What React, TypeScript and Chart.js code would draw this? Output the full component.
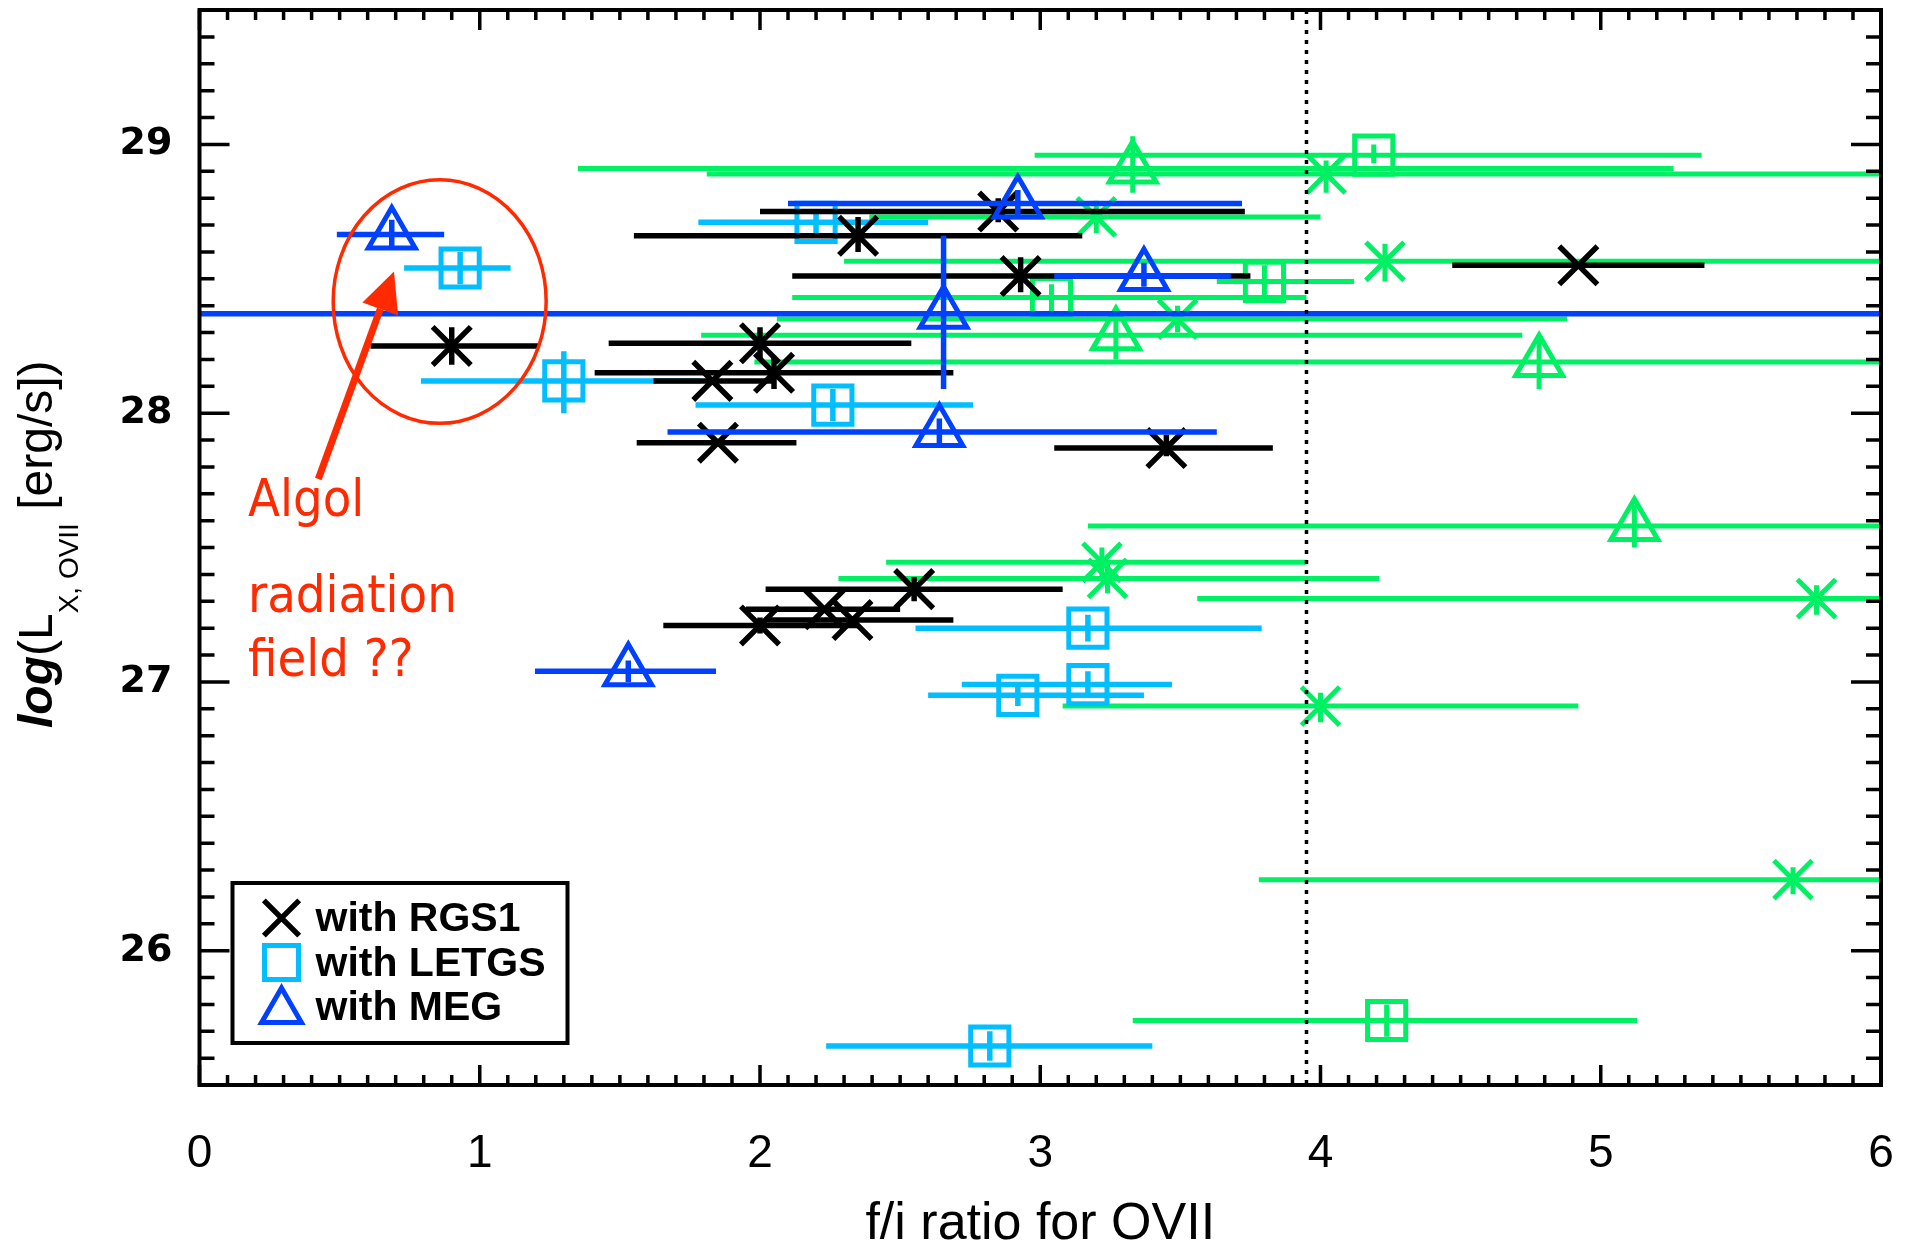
import React, { useEffect, useRef } from 'react';
import { Chart, registerables } from 'chart.js';

Chart.register(...registerables);

const W = 1919;
const H = 1253;

// ---------- data ----------
// with RGS1 (black X)
const rgsX = [0.90, 2.35, 2.85, 2.93, 4.92, 2.00, 2.05, 1.83, 1.85, 3.45, 2.55, 2.23, 2.33, 2.00];
const rgsY = [28.25, 28.66, 28.75, 28.51, 28.55, 28.26, 28.15, 28.12, 27.89, 27.87, 27.345, 27.27, 27.23, 27.21];
const rgsXLo = [0.61, 1.55, 2.00, 2.115, 4.47, 1.46, 1.41, 1.62, 1.56, 3.05, 2.02, 1.95, 2.02, 1.655];
const rgsXHi = [1.21, 3.15, 3.73, 3.75, 5.37, 2.54, 2.69, 2.05, 2.13, 3.83, 3.08, 2.50, 2.69, 2.35];
const rgsYLo = [28.18, 28.60, 28.71, 28.45, 28.55, 28.20, 28.09, 28.12, 27.89, 27.84, 27.30, 27.27, 27.23, 27.18];
const rgsYHi = [28.32, 28.73, 28.80, 28.58, 28.55, 28.32, 28.21, 28.12, 27.89, 27.92, 27.39, 27.27, 27.23, 27.24];

// with LETGS (cyan squares)
const letX = [0.93, 1.30, 2.20, 2.26, 3.17, 3.17, 2.92, 2.82];
const letY = [28.54, 28.12, 28.71, 28.03, 27.20, 26.99, 26.95, 25.645];
const letXLo = [0.73, 0.79, 1.78, 1.77, 2.555, 2.72, 2.60, 2.236];
const letXHi = [1.11, 1.79, 2.60, 2.76, 3.79, 3.47, 3.37, 3.40];
const letYLo = [28.48, 28.00, 28.66, 27.97, 27.15, 26.94, 26.91, 25.59];
const letYHi = [28.60, 28.23, 28.76, 28.09, 27.25, 27.04, 26.99, 25.70];

// with MEG (blue triangles)
const megX = [0.686, 2.92, 3.37, 2.655, 2.64, 1.53];
const megY = [28.665, 28.78, 28.51, 28.37, 27.93, 27.04];
const megXLo = [0.49, 2.10, 3.05, -1.0, 1.67, 1.197];
const megXHi = [0.873, 3.72, 3.68, 7.0, 3.63, 1.843];
const megYLo = [28.62, 28.73, 28.47, 28.09, 27.88, 27.00];
const megYHi = [28.72, 28.83, 28.56, 28.66, 27.98, 27.08];

// green group: X
const gStarX = [4.02, 3.20, 4.23, 3.49, 3.22, 3.24, 5.77, 4.00, 5.686];
const gStarY = [28.89, 28.73, 28.565, 28.35, 27.445, 27.385, 27.31, 26.91, 26.264];
const gStarXLo = [1.81, 2.39, 2.30, 2.06, 2.45, 2.28, 3.56, 3.08, 3.78];
const gStarXHi = [6.5, 4.00, 6.5, 4.88, 3.95, 4.21, 6.5, 4.92, 6.5];
const gStarYLo = [28.82, 28.67, 28.49, 28.30, 27.39, 27.33, 27.25, 26.85, 26.21];
const gStarYHi = [28.94, 28.79, 28.63, 28.40, 27.50, 27.44, 27.36, 26.96, 26.31];

// green group: squares
const gSqX = [4.19, 3.04, 3.80, 4.236];
const gSqY = [28.96, 28.43, 28.49, 25.74];
const gSqXLo = [2.98, 2.115, 3.63, 3.33];
const gSqXHi = [5.36, 3.95, 4.12, 5.13];
const gSqYLo = [28.93, 28.38, 28.43, 25.68];
const gSqYHi = [29.00, 28.48, 28.55, 25.80];

// green group: triangles
const gTriX = [3.33, 3.27, 4.78, 5.12];
const gTriY = [28.91, 28.29, 28.19, 27.58];
const gTriXLo = [1.35, 1.79, 1.98, 3.17];
const gTriXHi = [5.26, 4.72, 6.5, 6.5];
const gTriYLo = [28.82, 28.20, 28.09, 27.50];
const gTriYHi = [29.03, 28.37, 28.29, 27.66];

// axes
const xTickValues = [0, 1, 2, 3, 4, 5, 6];
const yTickValues = [26, 27, 28, 29];
const xMin = 0, xMax = 6;
const yMin = 25.5, yMax = 29.5;
const minorStep = 0.1;
const dividerX = 3.95;

const legendLabels = ['with RGS1', 'with LETGS', 'with MEG'];
const annotationLines = ['Algol', 'radiation', 'field ??'];

// ---------- styles ----------
const BLACK = '#000000';
const CYAN = '#00BEFF';
const BLUE = '#0040FF';
const GREEN = '#00F064';
const RED = '#FF2A00';

function makeSet(label: string, color: string, style: string, xs: number[], ys: number[],
  xlo: number[], xhi: number[], ylo: number[], yhi: number[], order: number,
  radius: number, bw: number, errWidth: number) {
  return {
    label,
    data: xs.map((x, i) => ({ x, y: ys[i] })),
    err: xs.map((_, i) => ({ xlo: xlo[i], xhi: xhi[i], ylo: ylo[i], yhi: yhi[i] })),
    errColor: color,
    errWidth,
    pointStyle: style,
    pointRadius: radius,
    pointHoverRadius: radius,
    pointBorderWidth: bw,
    pointBorderColor: color,
    pointBackgroundColor: 'rgba(0,0,0,0)',
    borderColor: color,
    showLine: false,
    order,
  };
}

const errorBarPlugin = {
  id: 'errorBars',
  beforeDatasetDraw(chart: any, args: any) {
    const ds = chart.data.datasets[args.index];
    if (!ds.err) return;
    const { ctx, chartArea: a, scales: { x, y } } = chart;
    ctx.save();
    ctx.beginPath();
    ctx.rect(a.left, a.top, a.right - a.left, a.bottom - a.top);
    ctx.clip();
    ctx.strokeStyle = ds.errColor;
    ctx.lineWidth = ds.errWidth;
    ctx.lineCap = 'butt';
    ds.data.forEach((p: any, i: number) => {
      const e = ds.err[i];
      const px = x.getPixelForValue(p.x);
      const py = y.getPixelForValue(p.y);
      ctx.beginPath();
      ctx.moveTo(x.getPixelForValue(e.xlo), py);
      ctx.lineTo(x.getPixelForValue(e.xhi), py);
      if (e.yhi > e.ylo) {
        ctx.moveTo(px, y.getPixelForValue(e.ylo));
        ctx.lineTo(px, y.getPixelForValue(e.yhi));
      }
      ctx.stroke();
    });
    ctx.restore();
  },
};

const frameTicksPlugin = {
  id: 'frameTicks',
  afterDatasetsDraw(chart: any) {
    const { ctx, chartArea: a, scales: { x, y } } = chart;
    ctx.save();
    // dotted divider
    const dx = x.getPixelForValue(dividerX);
    ctx.strokeStyle = BLACK;
    ctx.lineWidth = 3.5;
    ctx.setLineDash([4, 6]);
    ctx.beginPath();
    ctx.moveTo(dx, a.top);
    ctx.lineTo(dx, a.bottom);
    ctx.stroke();
    ctx.setLineDash([]);
    // inward ticks
    ctx.lineWidth = 3.5;
    ctx.lineCap = 'butt';
    ctx.beginPath();
    const nx = Math.round((xMax - xMin) / minorStep);
    for (let i = 0; i <= nx; i++) {
      const v = xMin + i * minorStep;
      const major = Math.abs(v - Math.round(v)) < 1e-6;
      const len = major ? 20 : 10;
      const px = x.getPixelForValue(v);
      ctx.moveTo(px, a.bottom);
      ctx.lineTo(px, a.bottom - len);
      ctx.moveTo(px, a.top);
      ctx.lineTo(px, a.top + len);
    }
    const ny = Math.round((yMax - yMin) / minorStep);
    for (let i = 0; i <= ny; i++) {
      const v = yMin + i * minorStep;
      const major = Math.abs(v - Math.round(v)) < 1e-6;
      const len = major ? 30 : 15;
      const py = y.getPixelForValue(v);
      ctx.moveTo(a.left, py);
      ctx.lineTo(a.left + len, py);
      ctx.moveTo(a.right, py);
      ctx.lineTo(a.right - len, py);
    }
    ctx.stroke();
    ctx.lineWidth = 4;
    ctx.strokeRect(a.left, a.top, a.right - a.left, a.bottom - a.top);
    ctx.restore();
  },
};

function drawMarker(ctx: CanvasRenderingContext2D, style: string, cx: number, cy: number, r: number) {
  ctx.beginPath();
  if (style === 'crossRot') {
    const d = r * Math.SQRT1_2;
    ctx.moveTo(cx - d, cy - d); ctx.lineTo(cx + d, cy + d);
    ctx.moveTo(cx + d, cy - d); ctx.lineTo(cx - d, cy + d);
  } else if (style === 'rect') {
    const s = r * Math.SQRT1_2;
    ctx.rect(cx - s, cy - s, 2 * s, 2 * s);
  } else {
    ctx.moveTo(cx, cy - r);
    ctx.lineTo(cx + r * 0.866, cy + r / 2);
    ctx.lineTo(cx - r * 0.866, cy + r / 2);
    ctx.closePath();
  }
  ctx.stroke();
}

const decorPlugin = {
  id: 'decor',
  afterDraw(chart: any) {
    const { ctx, chartArea: a, scales: { x, y } } = chart;
    ctx.save();

    // y-axis title (rotated, with subscript)
    ctx.translate(52, 728);
    ctx.rotate(-Math.PI / 2);
    ctx.fillStyle = BLACK;
    ctx.textBaseline = 'alphabetic';
    ctx.textAlign = 'left';
    let cx = 0;
    ctx.font = 'italic bold 48px "Liberation Sans", Arial, sans-serif';
    ctx.fillText('log', cx, 0);
    cx += ctx.measureText('log').width;
    ctx.font = '48px "Liberation Sans", Arial, sans-serif';
    ctx.fillText('(L', cx, 0);
    cx += ctx.measureText('(L').width;
    ctx.font = '28px "Liberation Sans", Arial, sans-serif';
    ctx.fillText('X, OVII', cx, 26);
    cx += ctx.measureText('X, OVII').width;
    ctx.font = '48px "Liberation Sans", Arial, sans-serif';
    ctx.fillText(' [erg/s])', cx, 0);
    ctx.restore();

    // legend box
    ctx.save();
    const bx = a.left + 33, bw = 335, bh = 160;
    const by = a.bottom - 42 - bh;
    ctx.strokeStyle = BLACK;
    ctx.lineWidth = 4;
    ctx.strokeRect(bx, by, bw, bh);
    const rows = [
      { color: BLACK, style: 'crossRot', r: 25, lw: 5.5 },
      { color: CYAN, style: 'rect', r: 24, lw: 5 },
      { color: BLUE, style: 'triangle', r: 23, lw: 5 },
    ];
    ctx.font = 'bold 41px "Liberation Sans", Arial, sans-serif';
    ctx.textBaseline = 'middle';
    ctx.textAlign = 'left';
    rows.forEach((row, i) => {
      const ry = by + 35 + i * 44.5;
      ctx.strokeStyle = row.color;
      ctx.lineWidth = row.lw;
      drawMarker(ctx, row.style, bx + 49, ry + (row.style === 'triangle' ? 4 : 0), row.r);
      ctx.fillStyle = BLACK;
      ctx.fillText(legendLabels[i], bx + 83, ry + 2);
    });
    ctx.restore();

    // annotation: ellipse, arrow, text
    ctx.save();
    ctx.strokeStyle = RED;
    ctx.fillStyle = RED;
    const ecx = x.getPixelForValue(0.857);
    const ecy = y.getPixelForValue(28.415);
    const erx = x.getPixelForValue(0.857 + 0.38) - ecx;
    const ery = ecy - y.getPixelForValue(28.415 + 0.453);
    ctx.lineWidth = 3.5;
    ctx.beginPath();
    ctx.ellipse(ecx, ecy, erx, ery, 0, 0, Math.PI * 2);
    ctx.stroke();

    const tx0 = x.getPixelForValue(0.424), ty0 = y.getPixelForValue(27.755);
    const tx1 = x.getPixelForValue(0.694), ty1 = y.getPixelForValue(28.527);
    const ang = Math.atan2(ty1 - ty0, tx1 - tx0);
    const headLen = 40, headHalf = 19;
    const bxh = tx1 - headLen * Math.cos(ang), byh = ty1 - headLen * Math.sin(ang);
    ctx.lineWidth = 7;
    ctx.beginPath();
    ctx.moveTo(tx0, ty0);
    ctx.lineTo(bxh, byh);
    ctx.stroke();
    ctx.beginPath();
    ctx.moveTo(tx1, ty1);
    ctx.lineTo(bxh + headHalf * Math.sin(ang), byh - headHalf * Math.cos(ang));
    ctx.lineTo(bxh - headHalf * Math.sin(ang), byh + headHalf * Math.cos(ang));
    ctx.closePath();
    ctx.fill();

    ctx.font = '52px "DejaVu Sans Condensed", "DejaVu Sans", sans-serif';
    ctx.textBaseline = 'alphabetic';
    ctx.textAlign = 'left';
    const tx = x.getPixelForValue(0.173);
    ctx.fillText(annotationLines[0], tx, y.getPixelForValue(27.616));
    ctx.fillText(annotationLines[1], tx, y.getPixelForValue(27.26));
    ctx.fillText(annotationLines[2], tx, y.getPixelForValue(27.023));
    ctx.restore();
  },
};

export default function App() {
  const canvasRef = useRef<HTMLCanvasElement | null>(null);

  useEffect(() => {
    if (!canvasRef.current) return;
    const datasets: any[] = [
      makeSet('with MEG', BLUE, 'triangle', megX, megY, megXLo, megXHi, megYLo, megYHi, 0, 27, 5, 5.5),
      makeSet('with RGS1', BLACK, 'crossRot', rgsX, rgsY, rgsXLo, rgsXHi, rgsYLo, rgsYHi, 1, 27, 5.5, 5.5),
      makeSet('with LETGS', CYAN, 'rect', letX, letY, letXLo, letXHi, letYLo, letYHi, 2, 27, 5, 5.5),
      makeSet('green X', GREEN, 'crossRot', gStarX, gStarY, gStarXLo, gStarXHi, gStarYLo, gStarYHi, 3, 27, 5, 5),
      makeSet('green squares', GREEN, 'rect', gSqX, gSqY, gSqXLo, gSqXHi, gSqYLo, gSqYHi, 4, 27, 5, 5),
      makeSet('green triangles', GREEN, 'triangle', gTriX, gTriY, gTriXLo, gTriXHi, gTriYLo, gTriYHi, 5, 27, 5, 5),
    ];
    const chart = new Chart(canvasRef.current, {
      type: 'scatter',
      data: { datasets },
      options: {
        responsive: false,
        animation: false,
        events: [],
        layout: { autoPadding: false, padding: { left: 0, top: 10, right: 38, bottom: 0 } },
        plugins: {
          legend: { display: false },
          tooltip: { enabled: false },
          title: { display: false },
        },
        scales: {
          x: {
            type: 'linear',
            min: xMin,
            max: xMax,
            grid: { display: false, drawTicks: false },
            border: { display: false },
            afterBuildTicks: (s: any) => { s.ticks = xTickValues.map((v) => ({ value: v })); },
            afterFit: (s: any) => {
              s.height = 168;
              s.paddingLeft = 0; s.paddingRight = 0; s.paddingTop = 0; s.paddingBottom = 0;
            },
            ticks: {
              color: BLACK,
              padding: 46,
              maxRotation: 0,
              autoSkip: false,
              font: { family: '"Liberation Sans", Arial, sans-serif', size: 46, lineHeight: 1 },
              callback: (v: any) => String(v),
            },
            title: {
              display: true,
              text: 'f/i ratio for OVII',
              color: BLACK,
              font: { family: '"Liberation Sans", Arial, sans-serif', size: 52, lineHeight: 1 },
              padding: { top: 0, bottom: 2 },
            },
          },
          y: {
            type: 'linear',
            min: yMin,
            max: yMax,
            grid: { display: false, drawTicks: false },
            border: { display: false },
            afterBuildTicks: (s: any) => { s.ticks = yTickValues.map((v) => ({ value: v })); },
            afterFit: (s: any) => {
              s.width = 199.5;
              s.paddingLeft = 0; s.paddingRight = 0; s.paddingTop = 0; s.paddingBottom = 0;
            },
            ticks: {
              color: BLACK,
              padding: 27,
              autoSkip: false,
              font: { family: '"DejaVu Sans", sans-serif', size: 38, weight: 'bold', lineHeight: 1 },
              callback: (v: any) => String(v),
            },
            title: { display: false },
          },
        },
      } as any,
      plugins: [errorBarPlugin, frameTicksPlugin, decorPlugin],
    });
    return () => chart.destroy();
  }, []);

  return (
    <div style={{ position: 'fixed', left: 0, top: 0, width: W, height: H, background: '#fff' }}>
      <canvas ref={canvasRef} width={W} height={H} style={{ display: 'block', width: W, height: H }} />
    </div>
  );
}
